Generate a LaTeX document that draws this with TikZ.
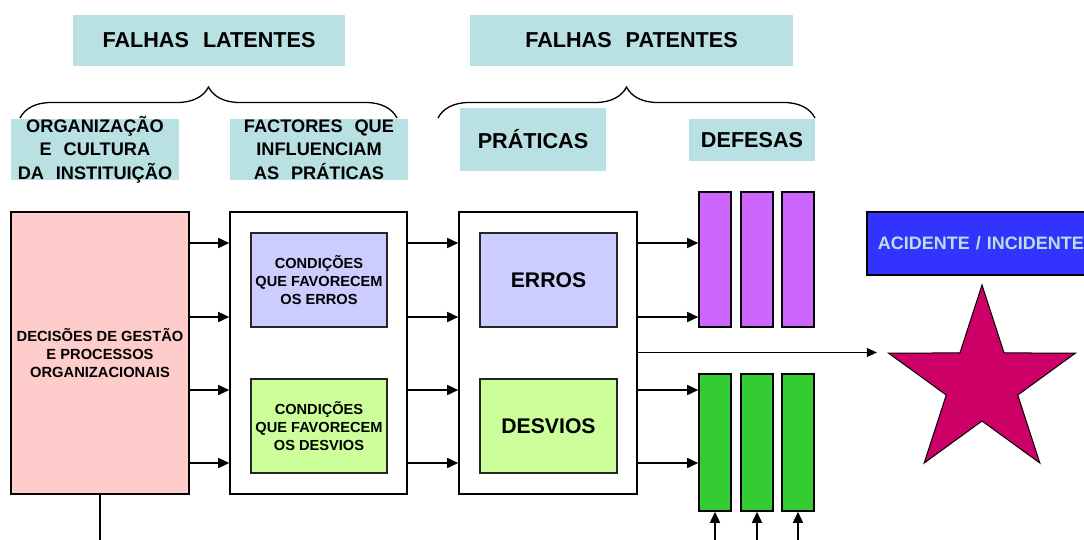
\documentclass[tikz,border=0pt]{standalone}
\usepackage{fontspec}
\setmainfont{Liberation Sans}
\usetikzlibrary{positioning,shapes.geometric,arrows.meta,decorations.pathreplacing}

\definecolor{hdrteal}{RGB}{185,224,227}
\definecolor{rosefill}{RGB}{255,204,204}
\definecolor{lilac}{RGB}{204,204,255}
\definecolor{limefill}{RGB}{204,255,153}
\definecolor{violetbar}{RGB}{204,102,255}
\definecolor{grassbar}{RGB}{51,204,51}
\definecolor{royal}{RGB}{51,51,255}
\definecolor{crimson}{RGB}{204,0,102}

\newcommand{\wsp}{\hspace{0.65em}}

\begin{document}
\begin{tikzpicture}[x=1pt,y=-1pt,
  title/.style={fill=hdrteal,inner sep=0pt,align=center,font=\bfseries\fontsize{21.6}{25}\selectfont},
  tag/.style={fill=hdrteal,inner sep=0pt},
  tagtext/.style={inner sep=0pt,align=center,font=\bfseries\fontsize{18.2}{23.3}\selectfont},
  block/.style={draw,line width=1.6pt,fill=white,inner sep=0pt},
  inbox/.style={draw=black!85,line width=1.6pt,inner sep=0pt,minimum width=136,minimum height=94},
  small/.style={align=center,font=\bfseries\fontsize{14.6}{18}\selectfont},
  big/.style={font=\bfseries\fontsize{21.2}{25}\selectfont},
  bar/.style={draw,line width=1.6pt,inner sep=0pt,minimum width=32},
  arr/.style={line width=1.6pt,-{Triangle[length=11pt,width=10pt]}},
  thinarr/.style={line width=0.9pt,-{Triangle[length=10pt,width=9pt]}}]
\useasboundingbox (0,0) rectangle (1084,539);

\node[title,minimum width=272,minimum height=51] (lat) at (209,40.5) {FALHAS\wsp LATENTES};
\node[title,minimum width=323,minimum height=51] (pat) at (631.5,40.5) {FALHAS\wsp PATENTES};

\draw[line width=1.3pt,decorate,decoration={brace,amplitude=31pt}] (20,118) -- (397,118);
\draw[line width=1.3pt,decorate,decoration={brace,amplitude=31pt}] (438,118) -- (815,118);

\node[tag,minimum width=168,minimum height=61] (org) at (95,149.5) {};
\node[tagtext] (orgtxt) at (org) {ORGANIZAÇÃO\\E\wsp CULTURA\\DA\wsp INSTITUIÇÃO};
\node[tag,minimum width=178,minimum height=61] (infl) at (319,149.5) {};
\node[tagtext] (infltxt) at (infl) {FACTORES\wsp QUE\\INFLUENCIAM\\AS\wsp PRÁTICAS};
\node[title,minimum width=146,minimum height=63] (prat) at (533,139.5) {PRÁTICAS};
\node[title,minimum width=126,minimum height=42] (def) at (752,140) {DEFESAS};

\node[block,fill=rosefill,minimum width=178,minimum height=282] (dec) at (100,353) {};
\node[small,font=\bfseries\fontsize{14.7}{18}\selectfont] (dectxt) at (dec) {DECISÕES DE GESTÃO\\E PROCESSOS\\ORGANIZACIONAIS};
\node[block,minimum width=177,minimum height=282] (fac) at (318.5,353) {};
\node[block,minimum width=178,minimum height=282] (prac) at (548,353) {};

\node[inbox,fill=lilac] (cerr) at (319,280) {};
\node[small] (cerrtxt) at (cerr) {CONDIÇÕES\\QUE FAVORECEM\\OS ERROS};
\node[inbox,fill=limefill] (cdes) at (319,426) {};
\node[small] (cdestxt) at (cdes) {CONDIÇÕES\\QUE FAVORECEM\\OS DESVIOS};
\node[inbox,big,minimum width=137,fill=lilac] (erros) at (548.5,280) {ERROS};
\node[inbox,big,minimum width=137,fill=limefill] (desv) at (548.5,426) {DESVIOS};

\foreach \x [count=\i] in {715,757,798} {
  \node[bar,fill=violetbar,minimum height=135] (p\i) at (\x,259.5) {};
  \node[bar,fill=grassbar,minimum height=137] (g\i) at (\x,442.5) {};
}

\node[draw,line width=1.6pt,fill=royal,text=hdrteal,anchor=west,minimum height=63,
  text width=230,align=left,inner xsep=11,font=\bfseries\fontsize{18}{22}\selectfont]
  (acid) at (866,243.5) {ACIDENTE / INCIDENTE};
\node[star,star points=5,star point ratio=2.618,minimum size=196.8pt,inner sep=0pt,
  draw,line width=1pt,fill=crimson] (star) at (982,383.4) {};

\foreach \y in {243,317,390,463} {
  \draw[arr] (dec.east |- 0,\y) -- (fac.west |- 0,\y);
  \draw[arr] (fac.east |- 0,\y) -- (prac.west |- 0,\y);
}
\foreach \y in {243,317} \draw[arr] (prac.east |- 0,\y) -- (p1.west |- 0,\y);
\foreach \y in {390,463} \draw[arr] (prac.east |- 0,\y) -- (g1.west |- 0,\y);
\draw[thinarr,shorten >=10pt] (prac.east |- star.outer point 2) -- (star.outer point 2);
\foreach \i in {1,2,3} \draw[arr] (g\i.south |- 0,545) -- (g\i.south);
\draw[line width=1.6pt] (dec.south) -- (dec.south |- 0,545);
\end{tikzpicture}
\end{document}
